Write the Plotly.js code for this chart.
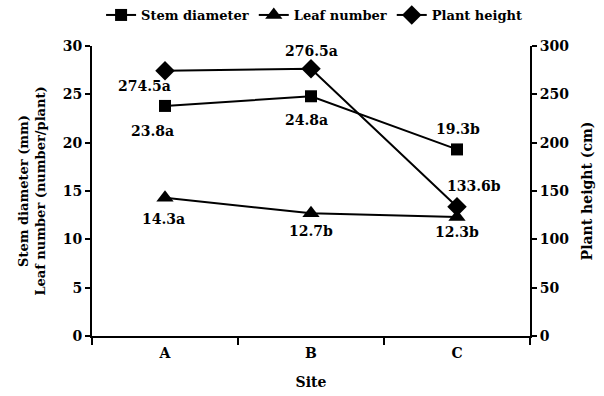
<!DOCTYPE html>
<html>
<head>
<meta charset="utf-8">
<script src="https://cdn.plot.ly/plotly-3.0.1.min.js"></script>
<style>html,body{margin:0;padding:0;background:#fff}#chart{width:604px;height:396px}</style>
</head>
<body>
<div id="chart"></div>
<script>
const sites = ["A", "B", "C"];
const stemDiameter = [23.8, 24.8, 19.3];
const stemLetters = ["a", "a", "b"];
const leafNumber = [14.3, 12.7, 12.3];
const leafLetters = ["a", "b", "b"];
const plantHeight = [274.5, 276.5, 133.6];
const heightLetters = ["a", "a", "b"];

const FONT = "DejaVu Serif";
const FS = 14;
const lineStyle = {color: "#000", width: 2};

const traces = [
  {x: sites, y: stemDiameter, name: "Stem diameter", type: "scatter", mode: "lines+markers",
   line: lineStyle, marker: {symbol: "square", size: 12, color: "#000"}, yaxis: "y"},
  {x: sites, y: leafNumber, name: "Leaf number", type: "scatter", mode: "lines+markers",
   line: lineStyle, marker: {symbol: "triangle-up", size: 15, color: "#000"}, yaxis: "y"},
  {x: sites, y: plantHeight, name: "Plant height", type: "scatter", mode: "lines+markers",
   line: lineStyle, marker: {symbol: "diamond", size: 15, color: "#000"}, yaxis: "y2"}
];

// label offsets (px) per series per point
const stemShift = [[-13, -25], [-5, -24], [1, 20]];
const leafShift = [[-2, -21], [0, -18], [0, -15]];
const heightShift = [[-21, -15], [0, 18], [17, 21]];

const annotations = [];
function addLabels(vals, letters, shifts, yref) {
  vals.forEach((v, i) => {
    annotations.push({
      x: sites[i], y: v, xref: "x", yref: yref,
      text: v.toFixed(1) + letters[i], showarrow: false,
      xshift: shifts[i][0], yshift: shifts[i][1],
      font: {family: FONT, size: FS, color: "#000", weight: "bold"}
    });
  });
}
addLabels(stemDiameter, stemLetters, stemShift, "y");
addLabels(leafNumber, leafLetters, leafShift, "y");
addLabels(plantHeight, heightLetters, heightShift, "y2");

const layout = {
  width: 604, height: 396,
  margin: {l: 92, r: 74, t: 46, b: 60},
  paper_bgcolor: "#fff", plot_bgcolor: "#fff",
  font: {family: FONT, size: FS, color: "#000", weight: "bold"},
  showlegend: true,
  legend: {orientation: "h", x: 0.52, xref: "container", xanchor: "center",
           y: 1, yref: "container", yanchor: "top",
           font: {family: FONT, size: 13, color: "#000", weight: "bold"}, itemwidth: 30,
           tracegroupgap: 0},
  xaxis: {type: "category", range: [-0.5, 2.5], showline: true, linecolor: "#000", linewidth: 2,
          ticks: "outside", tickson: "boundaries", ticklen: 7, tickwidth: 2, tickcolor: "#000",
          ticklabelstandoff: 3, showgrid: false, zeroline: false,
          title: {text: "Site", font: {family: FONT, size: FS, weight: "bold"}, standoff: 17}},
  yaxis: {range: [0, 30], dtick: 5, showline: true, linecolor: "#000", linewidth: 2,
          ticks: "outside", ticklen: 5, tickwidth: 2, tickcolor: "#000",
          showgrid: false, zeroline: false,
          title: {text: "Stem diameter (mm)<br>Leaf number (number/plant)",
                  font: {family: FONT, size: 13, weight: "bold"}, standoff: 14}},
  yaxis2: {range: [0, 300], dtick: 50, overlaying: "y", side: "right", showline: true,
           linecolor: "#000", linewidth: 2, ticks: "outside", ticklen: 5, tickwidth: 2,
           tickcolor: "#000", showgrid: false, zeroline: false,
           title: {text: "Plant height (cm)", font: {family: FONT, size: FS, weight: "bold"}, standoff: 14}},
  annotations: annotations
};

Plotly.newPlot("chart", traces, layout, {displayModeBar: false, staticPlot: true});
</script>
</body>
</html>
